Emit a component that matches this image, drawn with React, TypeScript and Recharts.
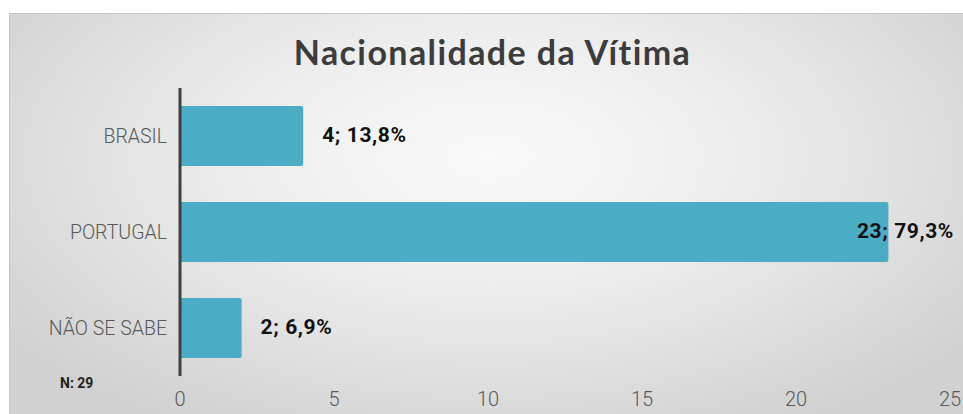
import React from "react";
import { BarChart, Bar, XAxis, YAxis, LabelList } from "recharts";

const categories = ["BRASIL", "PORTUGAL", "NÃO SE SABE"];
const counts = [4, 23, 2];
const percents = ["13,8%", "79,3%", "6,9%"];
const xTicks = [0, 5, 10, 15, 20, 25];

const chartData = categories.map((name, i) => ({
  name,
  count: counts[i],
  pct: percents[i],
}));

const BAR_COLOR = "#4BACC6";

// value label: right of the bar, pulled back inside when it would overflow
const renderLabel = (props: any) => {
  const { x, y, width, height, index } = props;
  const text = `${counts[index]}; ${percents[index]}`;
  const approxWidth = text.length * 10.4;
  let lx = x + width + 19;
  let anchor: "start" | "end" = "start";
  if (lx + approxWidth > 955) {
    lx = 954;
    anchor = "end";
  }
  return (
    <text
      x={lx}
      y={y + height / 2 - 1.5}
      textAnchor={anchor}
      dominantBaseline="central"
      fill="#111"
      fontSize={21}
      fontWeight={700}
      letterSpacing={0.6}
      fontFamily="Roboto, 'Liberation Sans', sans-serif"
    >
      {text}
    </text>
  );
};

export default function App() {
  return (
    <div
      style={{
        position: "absolute",
        left: 0,
        top: 0,
        width: 963,
        height: 414,
        overflow: "hidden",
        background: "#fff",
      }}
    >
      <div
        style={{
          position: "absolute",
          left: 9,
          top: 13,
          width: 960,
          height: 410,
          border: "1px solid #c6c6c6",
          background:
            "radial-gradient(ellipse 62% 75% at 50% 35%, #fafafa 0%, #ececec 45%, #d1d1d1 100%)",
        }}
      />
      <div
        style={{
          position: "absolute",
          left: 0,
          top: 30,
          width: 985,
          textAlign: "center",
          fontFamily: "Lato, 'Noto Sans', sans-serif",
          fontWeight: 700,
          fontSize: 34,
          letterSpacing: 1.4,
          color: "#3c3c3c",
          lineHeight: "44px",
        }}
      >
        Nacionalidade da Vítima
      </div>
      <div
        style={{
          position: "absolute",
          left: 60,
          top: 375,
          fontFamily: "Roboto, 'Liberation Sans', sans-serif",
          fontWeight: 700,
          fontSize: 14,
          color: "#222",
        }}
      >
        N: 29
      </div>
      <div style={{ position: "absolute", left: 0, top: 0 }}>
        <BarChart
          width={963}
          height={414}
          data={chartData}
          layout="vertical"
          margin={{ top: 88, right: 13, left: 0, bottom: 8 }}
          barCategoryGap={18}
        >
          <XAxis
            type="number"
            domain={[0, 25]}
            ticks={xTicks}
            axisLine={false}
            tickLine={false}
            height={30}
            tickMargin={10}
            tick={{
              fill: "#595959",
              fontSize: 20,
              fontWeight: 300,
              fontFamily: "Roboto, 'Liberation Sans', sans-serif",
            }}
          />
          <YAxis
            type="category"
            dataKey="name"
            width={180}
            axisLine={{ stroke: "#404040", strokeWidth: 3 }}
            tickLine={false}
            tickMargin={7}
            tick={{
              fill: "#595959",
              fontSize: 19.5,
              fontWeight: 300,
              fontFamily: "Roboto, 'Liberation Sans', sans-serif",
            }}
          />
          <Bar
            dataKey="count"
            fill={BAR_COLOR}
            radius={2}
            isAnimationActive={false}
          >
            <LabelList dataKey="count" content={renderLabel} />
          </Bar>
        </BarChart>
      </div>
    </div>
  );
}
